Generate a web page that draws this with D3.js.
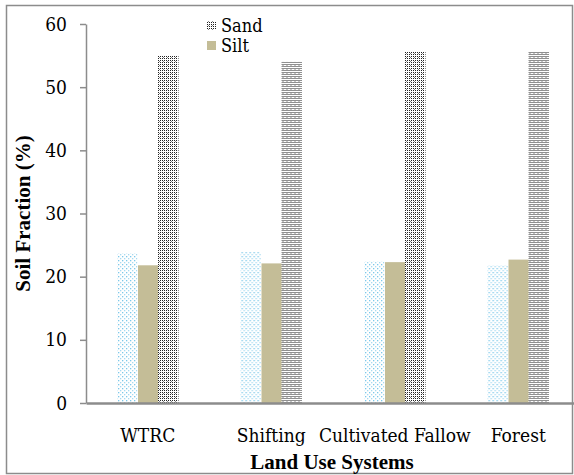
<!DOCTYPE html>
<html>
<head>
<meta charset="utf-8">
<script src="https://cdn.jsdelivr.net/npm/d3@7"></script>
<style>
  body { margin: 0; background: #fff; }
</style>
</head>
<body>
<svg id="chart" width="574" height="475"></svg>
<script>
// data
var categories = ["WTRC", "Shifting", "Cultivated Fallow", "Forest"];
var seriesNames = ["Clay", "Silt", "Sand"];
var clay = [23.7, 23.9, 22.4, 21.8];
var silt = [21.8, 22.1, 22.3, 22.7];
var sand = [55.0, 54.0, 55.6, 55.6];
var yTicks = [0, 10, 20, 30, 40, 50, 60];

var svg = d3.select("#chart");
var serifReg = "'DejaVu Serif Condensed', 'DejaVu Serif', serif";
var serifBold = "'Liberation Serif', serif";

var plotLeft = 86, plotRight = 580, plotTop = 24, plotBottom = 403;
var fontSize = 21, regSize = 19;

var x = d3.scaleBand().domain(categories).range([plotLeft, plotRight]);
var y = d3.scaleLinear().domain([0, 60]).range([plotBottom, plotTop]);
var barW = 20.5;
var inner = d3.scaleBand().domain(seriesNames)
              .range([x.bandwidth() / 2 - 1.5 * barW, x.bandwidth() / 2 + 1.5 * barW]);

// patterns
var defs = svg.append("defs");
var pClay = defs.append("pattern").attr("id", "pClay")
                .attr("patternUnits", "userSpaceOnUse").attr("width", 4).attr("height", 4);
pClay.append("rect").attr("width", 4).attr("height", 4).attr("fill", "#fff");
pClay.append("rect").attr("x", 0).attr("y", 0).attr("width", 1.3).attr("height", 1.3).attr("fill", "#7cc8ea");
pClay.append("rect").attr("x", 2).attr("y", 2).attr("width", 1.3).attr("height", 1.3).attr("fill", "#a6daf0");

var pSand = defs.append("pattern").attr("id", "pSand")
                .attr("patternUnits", "userSpaceOnUse").attr("width", 4).attr("height", 4);
pSand.append("rect").attr("width", 4).attr("height", 4).attr("fill", "#fff");
[[0,0],[2,0],[0,2],[2,2],[1,1]].forEach(function(p){
  pSand.append("rect").attr("x", p[0]).attr("y", p[1]).attr("width", 1).attr("height", 1)
       .attr("fill", p[0] === 1 ? "#888" : "#222");
});

var fills = {"Clay": "url(#pClay)", "Silt": "#c4bd97", "Sand": "url(#pSand)"};

// outer border
svg.append("rect").attr("x", 6.5).attr("y", 5.5).attr("width", 566).attr("height", 468)
   .attr("fill", "none").attr("stroke", "#8c8c8c").attr("stroke-width", 1.5);

// bars
var rows = categories.map(function(c, i){
  return {cat: c, vals: [{s: "Clay", v: clay[i]}, {s: "Silt", v: silt[i]}, {s: "Sand", v: sand[i]}]};
});

var groups = svg.append("g").selectAll("g").data(rows).enter().append("g")
                .attr("transform", d => `translate(${x(d.cat)},0)`);
groups.selectAll("rect").data(d => d.vals).enter().append("rect")
      .attr("x", d => Math.round(inner(d.s)))
      .attr("width", inner.bandwidth())
      .attr("y", d => y(d.v))
      .attr("height", d => plotBottom - y(d.v))
      .attr("fill", d => fills[d.s]);

// axes
var yAxis = d3.axisLeft(y).tickValues(yTicks).tickSize(6).tickSizeOuter(0).tickPadding(13);
var gY = svg.append("g").attr("transform", `translate(${plotLeft},0)`).call(yAxis)
            .attr("font-family", serifReg).attr("font-size", regSize);
gY.select(".domain").attr("stroke", "#8c8c8c").attr("stroke-width", 1.5);
gY.selectAll(".tick line").attr("stroke", "#8c8c8c").attr("stroke-width", 1.5);
gY.selectAll(".tick text").attr("fill", "#000");

var xAxis = d3.axisBottom(x).tickSize(0).tickPadding(26);
var gX = svg.append("g").attr("transform", `translate(0,${plotBottom})`).call(xAxis)
            .attr("font-family", serifReg).attr("font-size", regSize);
gX.select(".domain").attr("stroke", "#8c8c8c").attr("stroke-width", 2.5);
gX.selectAll(".tick text").attr("fill", "#000");

// titles
svg.append("text").attr("x", (plotLeft + plotRight) / 2 - 1).attr("y", 469)
   .attr("text-anchor", "middle").attr("font-weight", "bold").attr("font-size", fontSize)
   .attr("font-family", serifBold)
   .text("Land Use Systems");
svg.append("text").attr("transform", `translate(30,${(plotTop + plotBottom) / 2}) rotate(-90)`)
   .attr("text-anchor", "middle").attr("font-weight", "bold").attr("font-size", fontSize)
   .attr("font-family", serifBold)
   .text("Soil Fraction (%)");

// legend
var legendItems = ["Sand", "Silt"];
var lg = svg.append("g").selectAll("g").data(legendItems).enter().append("g")
            .attr("transform", (d, i) => `translate(207,${20 + i * 20})`);
lg.append("rect").attr("width", 9).attr("height", 9).attr("y", 1)
  .attr("fill", d => fills[d]);
lg.append("text").attr("x", 14).attr("y", 12).attr("font-size", 18)
  .attr("font-family", serifReg).text(d => d);
</script>
</body>
</html>
